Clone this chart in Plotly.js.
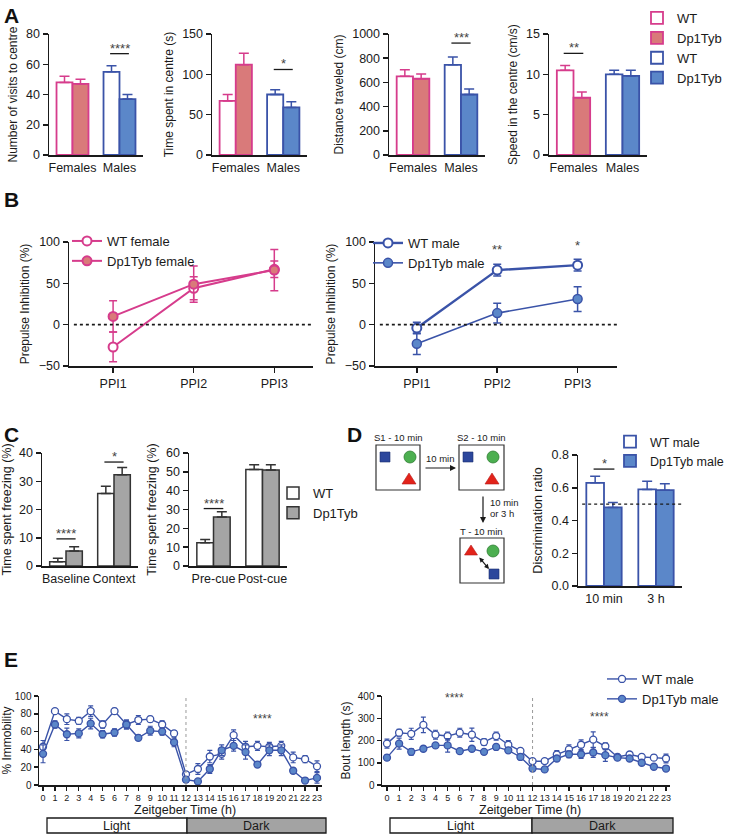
<!DOCTYPE html>
<html><head><meta charset="utf-8">
<script src="https://cdn.plot.ly/plotly-3.0.1.min.js"></script>
<style>html,body{margin:0;padding:0;background:#fff}#chart{width:730px;height:836px}</style>
</head><body><div id="chart"></div>
<script>
// ---------------- DATA ----------------
// Panel A (open field): order = visits, time in centre, distance, speed
const sexCats = ['Females', 'Males'];
const aTitles = ['Number of visits to centre', 'Time spent in centre (s)', 'Distance traveled (cm)', 'Speed in the centre (cm/s)'];
const aMax = [80, 150, 1000, 15];
const aDtick = [20, 50, 200, 5];
const femaleWT = [48, 67, 650, 10.5];
const femaleWTErr = [4, 8, 55, 0.6];
const femaleDp = [47, 112, 630, 7.1];
const femaleDpErr = [3, 14, 40, 0.7];
const maleWT = [55, 75, 745, 10.0];
const maleWTErr = [4, 6, 65, 0.5];
const maleDp = [37, 59, 500, 9.8];
const maleDpErr = [3, 7, 45, 0.7];

// Panel B (prepulse inhibition)
const ppiCats = ['PPI1', 'PPI2', 'PPI3'];
const ppiWTFemale = [-27, 44, 67];
const ppiWTFemaleErr = [18, 14, 10];
const ppiDpFemale = [10, 49, 66];
const ppiDpFemaleErr = [19, 22, 25];
const ppiWTMale = [-4, 66, 72];
const ppiWTMaleErr = [7, 7, 7];
const ppiDpMale = [-23, 14, 31];
const ppiDpMaleErr = [13, 12, 15];

// Panel C (fear conditioning)
const ctxCats = ['Baseline', 'Context'];
const ctxWT = [1.5, 25.7];
const ctxWTErr = [1.2, 2.5];
const ctxDp = [5.3, 32.3];
const ctxDpErr = [1.5, 2.6];
const cueCats = ['Pre-cue', 'Post-cue'];
const cueWT = [12.3, 51.2];
const cueWTErr = [1.8, 2.5];
const cueDp = [26.0, 51.0];
const cueDpErr = [2.8, 2.8];

// Panel D (novel object location)
const norCats = ['10 min', '3 h'];
const norWT = [0.63, 0.59];
const norWTErr = [0.04, 0.05];
const norDp = [0.48, 0.585];
const norDpErr = [0.03, 0.04];

// Panel E (circadian)
const hours = [0,1,2,3,4,5,6,7,8,9,10,11,12,13,14,15,16,17,18,19,20,21,22,23];
const immWT = [43,83,74,72,83,68,83,68,73,74,68,58,12,18,32,35,56,43,44,43,44,31,29,21];
const immWTErr = [7,2,6,4,6,4,3,5,5,3,4,3,3,6,7,6,6,6,5,5,5,6,4,6];
const immDp = [35,68,57,58,69,57,59,68,53,61,60,48,6,4,18,39,44,37,23,39,39,16,5,8];
const immDpErr = [10,4,7,5,6,4,4,5,3,5,4,5,3,2,5,6,6,8,3,6,6,3,2,6];
const boutWT = [186,235,230,270,226,220,235,226,193,220,181,153,107,107,137,160,181,204,174,126,137,126,123,119];
const boutWTErr = [20,15,25,35,20,18,20,30,15,18,18,12,12,10,18,20,22,35,15,12,12,12,12,20];
const boutDp = [123,186,149,163,178,178,152,163,149,171,156,126,74,70,119,138,138,146,134,123,119,100,82,74];
const boutDpErr = [12,25,15,12,10,30,10,10,8,12,8,8,10,5,10,15,18,22,28,10,10,8,10,8];

// ---------------- STYLE ----------------
const W = 730, H = 836;
const px = v => v / W, py = v => 1 - v / H;
const FONT = 'Liberation Sans, Arial, sans-serif';
const INK = '#1a1a1a';
const PINK = '#d63c8c', SALMON = '#d97a7a';
const BLUE = '#3a53a8', BLUEFILL = '#5b87c9';
const GREY = '#a5a5a5', GREYLINE = '#333333';

const traces = [], annotations = [], shapes = [];
const layout = {
  width: W, height: H, autosize: false,
  margin: {l: 0, r: 0, t: 0, b: 0, pad: 0, autoexpand: false},
  paper_bgcolor: '#fff', plot_bgcolor: '#fff',
  font: {family: FONT, color: INK, size: 12},
  barmode: 'group', bargap: 0.32, bargroupgap: 0,
  showlegend: true,
  annotations, shapes
};
const sfx = n => (n === 1 ? '' : String(n));
function baseAxis() {
  return {showline: true, linecolor: INK, linewidth: 1.5, ticks: 'outside', ticklen: 5, tickwidth: 1.5,
          tickcolor: INK, showgrid: false, zeroline: false, fixedrange: true, tickangle: 0, automargin: false,
          tickfont: {size: 12.5, color: INK, family: FONT}};
}
function axes(n, xdom, ydom, xopt, yopt) {
  layout['xaxis' + sfx(n)] = Object.assign(baseAxis(), {domain: xdom, anchor: 'y' + sfx(n)}, xopt);
  layout['yaxis' + sfx(n)] = Object.assign(baseAxis(), {domain: ydom, anchor: 'x' + sfx(n)}, yopt);
}
function ytitle(text, size, standoff) {
  return {text, font: {size: size, family: FONT, color: INK}, standoff: standoff};
}
function sig(n, x0, x1, y, txt) {
  shapes.push({type: 'line', xref: 'x' + sfx(n), yref: 'y' + sfx(n), x0, x1, y0: y, y1: y,
               line: {color: INK, width: 1.3}});
  annotations.push({xref: 'x' + sfx(n), yref: 'y' + sfx(n), x: (x0 + x1) / 2, y, text: txt, showarrow: false,
                    yanchor: 'bottom', yshift: -4, font: {size: 13, color: '#444', family: FONT}});
}
function upErr(arr, color, w) {
  return {type: 'data', array: arr, arrayminus: arr.map(() => 0), symmetric: false,
          color, thickness: 1.5, width: w || 5};
}
function symErr(arr, color, w, t) {
  return {type: 'data', array: arr, visible: true, color, thickness: t || 1.5, width: w || 4};
}
function legendAt(x, y, size) {
  return {x: px(x), y: py(y), xanchor: 'left', yanchor: 'top', font: {size: size || 13, family: FONT, color: INK},
          bgcolor: 'rgba(0,0,0,0)', tracegroupgap: 0, itemwidth: 30, traceorder: 'normal'};
}

// ---------------- PANEL A ----------------
const aX = [[49, 143], [212, 307], [389, 485], [549, 647]];
const aY = [py(155), py(34)];
for (let i = 0; i < 4; i++) {
  const n = i + 1;
  axes(n, [px(aX[i][0]), px(aX[i][1])], aY,
       {type: 'category', categoryarray: sexCats, range: [-0.5, 1.5], ticks: ''},
       {range: [0, aMax[i]], dtick: aDtick[i], title: ytitle(aTitles[i], 12, 6)});
  const xa = 'x' + sfx(n), ya = 'y' + sfx(n), first = i === 0;
  traces.push({type: 'bar', name: 'WT', x: ['Females'], y: [femaleWT[i]], xaxis: xa, yaxis: ya, offsetgroup: 'wt',
    marker: {color: '#fff', line: {color: PINK, width: 1.8}}, error_y: upErr([femaleWTErr[i]], PINK),
    showlegend: first, legend: 'legend', legendrank: 1});
  traces.push({type: 'bar', name: 'Dp1Tyb', x: ['Females'], y: [femaleDp[i]], xaxis: xa, yaxis: ya, offsetgroup: 'dp',
    marker: {color: SALMON, line: {color: PINK, width: 1.8}}, error_y: upErr([femaleDpErr[i]], PINK),
    showlegend: first, legend: 'legend', legendrank: 2});
  traces.push({type: 'bar', name: 'WT', x: ['Males'], y: [maleWT[i]], xaxis: xa, yaxis: ya, offsetgroup: 'wt',
    marker: {color: '#fff', line: {color: BLUE, width: 1.8}}, error_y: upErr([maleWTErr[i]], BLUE),
    showlegend: first, legend: 'legend', legendrank: 3});
  traces.push({type: 'bar', name: 'Dp1Tyb', x: ['Males'], y: [maleDp[i]], xaxis: xa, yaxis: ya, offsetgroup: 'dp',
    marker: {color: BLUEFILL, line: {color: BLUE, width: 1.8}}, error_y: upErr([maleDpErr[i]], BLUE),
    showlegend: first, legend: 'legend', legendrank: 4});
}
sig(1, 0.8, 1.2, 67, '****');
sig(2, 0.8, 1.2, 106, '*');
sig(3, 0.8, 1.2, 925, '***');
sig(4, -0.2, 0.2, 12.6, '**');
layout.legend = legendAt(637, 3);

// ---------------- PANEL B ----------------
const bY = [py(366), py(242)];
axes(5, [px(69), px(313)], bY,
     {type: 'category', categoryarray: ppiCats, range: [-0.547, 2.48]},
     {range: [-50, 100], tickvals: [-50, 0, 50, 100], title: ytitle('Prepulse Inhibition (%)', 12, 6)});
axes(6, [px(375), px(617)], bY,
     {type: 'category', categoryarray: ppiCats, range: [-0.52, 2.49]},
     {range: [-50, 100], tickvals: [-50, 0, 50, 100], title: ytitle('Prepulse Inhibition (%)', 12, 6)});
shapes.push({type: 'line', xref: 'x5 domain', yref: 'y5', x0: 0.02, x1: 1, y0: 0, y1: 0, line: {color: INK, width: 1.6, dash: 'dot'}});
shapes.push({type: 'line', xref: 'x6 domain', yref: 'y6', x0: 0.02, x1: 1, y0: 0, y1: 0, line: {color: INK, width: 1.6, dash: 'dot'}});
traces.push({type: 'scatter', mode: 'lines+markers', name: 'WT female', x: ppiCats, y: ppiWTFemale, xaxis: 'x5', yaxis: 'y5',
  line: {color: PINK, width: 2}, marker: {symbol: 'circle', size: 9, color: '#fff', line: {color: PINK, width: 2}},
  error_y: symErr(ppiWTFemaleErr, PINK, 4), legend: 'legend2'});
traces.push({type: 'scatter', mode: 'lines+markers', name: 'Dp1Tyb female', x: ppiCats, y: ppiDpFemale, xaxis: 'x5', yaxis: 'y5',
  line: {color: PINK, width: 2}, marker: {symbol: 'circle', size: 9, color: SALMON, line: {color: PINK, width: 2}},
  error_y: symErr(ppiDpFemaleErr, PINK, 4), legend: 'legend2'});
traces.push({type: 'scatter', mode: 'lines+markers', name: 'WT male', x: ppiCats, y: ppiWTMale, xaxis: 'x6', yaxis: 'y6',
  line: {color: BLUE, width: 2.4}, marker: {symbol: 'circle', size: 9, color: '#fff', line: {color: BLUE, width: 2}},
  error_y: symErr(ppiWTMaleErr, BLUE, 4), legend: 'legend3'});
traces.push({type: 'scatter', mode: 'lines+markers', name: 'Dp1Tyb male', x: ppiCats, y: ppiDpMale, xaxis: 'x6', yaxis: 'y6',
  line: {color: BLUE, width: 1.6}, marker: {symbol: 'circle', size: 9, color: BLUEFILL, line: {color: BLUE, width: 1.5}},
  error_y: symErr(ppiDpMaleErr, BLUE, 4), legend: 'legend3'});
annotations.push({xref: 'x6', yref: 'y6', x: 1, y: 79, text: '**', showarrow: false, yanchor: 'bottom', font: {size: 13, color: '#444'}});
annotations.push({xref: 'x6', yref: 'y6', x: 2, y: 84, text: '*', showarrow: false, yanchor: 'bottom', font: {size: 13, color: '#444'}});
layout.legend2 = legendAt(67, 226);
layout.legend3 = legendAt(368, 228);

// ---------------- PANEL C ----------------
const cY = [py(566), py(453)];
axes(7, [px(42), px(138)], cY,
     {type: 'category', categoryarray: ctxCats, range: [-0.5, 1.5], ticks: ''},
     {range: [0, 40], dtick: 10, title: ytitle('Time spent freezing (%)', 12.5, 6)});
axes(8, [px(189), px(287)], cY,
     {type: 'category', categoryarray: cueCats, range: [-0.5, 1.5], ticks: ''},
     {range: [0, 60], dtick: 10, title: ytitle('Time spent freezing (%)', 12.5, 6)});
traces.push({type: 'bar', name: 'WT', x: ctxCats, y: ctxWT, xaxis: 'x7', yaxis: 'y7', offsetgroup: 'wt',
  marker: {color: '#fff', line: {color: GREYLINE, width: 1.5}}, error_y: upErr(ctxWTErr, GREYLINE), legend: 'legend4'});
traces.push({type: 'bar', name: 'Dp1Tyb', x: ctxCats, y: ctxDp, xaxis: 'x7', yaxis: 'y7', offsetgroup: 'dp',
  marker: {color: GREY, line: {color: GREYLINE, width: 1.5}}, error_y: upErr(ctxDpErr, GREYLINE), legend: 'legend4'});
traces.push({type: 'bar', name: 'WT', x: cueCats, y: cueWT, xaxis: 'x8', yaxis: 'y8', offsetgroup: 'wt', showlegend: false,
  marker: {color: '#fff', line: {color: GREYLINE, width: 1.5}}, error_y: upErr(cueWTErr, GREYLINE)});
traces.push({type: 'bar', name: 'Dp1Tyb', x: cueCats, y: cueDp, xaxis: 'x8', yaxis: 'y8', offsetgroup: 'dp', showlegend: false,
  marker: {color: GREY, line: {color: GREYLINE, width: 1.5}}, error_y: upErr(cueDpErr, GREYLINE)});
sig(7, -0.2, 0.2, 9.6, '****');
sig(7, 0.8, 1.2, 36.8, '*');
sig(8, -0.2, 0.2, 30.5, '****');
layout.legend4 = legendAt(273, 478);

// ---------------- PANEL D ----------------
axes(9, [px(578), px(682)], [py(586), py(455)],
     {type: 'category', categoryarray: norCats, range: [-0.5, 1.5], ticks: ''},
     {range: [0, 0.8], tickvals: [0, 0.2, 0.4, 0.6, 0.8], tickformat: '.1f', title: ytitle('Discrimination ratio', 12.5, 6)});
traces.push({type: 'bar', name: 'WT male', x: norCats, y: norWT, xaxis: 'x9', yaxis: 'y9', offsetgroup: 'wt',
  marker: {color: '#fff', line: {color: BLUE, width: 1.8}}, error_y: upErr(norWTErr, BLUE), legend: 'legend5'});
traces.push({type: 'bar', name: 'Dp1Tyb male', x: norCats, y: norDp, xaxis: 'x9', yaxis: 'y9', offsetgroup: 'dp',
  marker: {color: BLUEFILL, line: {color: BLUE, width: 1.8}}, error_y: upErr(norDpErr, BLUE), legend: 'legend5'});
shapes.push({type: 'line', xref: 'x9 domain', yref: 'y9', x0: 0.04, x1: 1, y0: 0.5, y1: 0.5, line: {color: INK, width: 1.4, dash: 'dot'}});
sig(9, -0.2, 0.2, 0.714, '*');
layout.legend5 = legendAt(610, 427, 12.5);

// D diagram (schematic)
function rect(x0, y0, x1, y1, fill, line, lw) {
  shapes.push({type: 'rect', xref: 'paper', yref: 'paper', x0: px(x0), x1: px(x1), y0: py(y1), y1: py(y0),
               fillcolor: fill, line: {color: line, width: lw}});
}
function circ(cx, cy, r, fill, line) {
  shapes.push({type: 'circle', xref: 'paper', yref: 'paper', x0: px(cx - r), x1: px(cx + r), y0: py(cy + r), y1: py(cy - r),
               fillcolor: fill, line: {color: line, width: 0.8}});
}
function tri(ax_, ay_, w, h, fill) {
  const p = `M${px(ax_)},${py(ay_)} L${px(ax_ - w / 2)},${py(ay_ + h)} L${px(ax_ + w / 2)},${py(ay_ + h)} Z`;
  shapes.push({type: 'path', xref: 'paper', yref: 'paper', path: p, fillcolor: fill, line: {color: '#b71c1c', width: 0.6}});
}
const SQ = '#2c479c', GR = '#4caf50', RD = '#e2231a';
rect(376, 445, 420, 490, 'rgba(0,0,0,0)', '#333', 1.2);
rect(459, 445, 504, 490, 'rgba(0,0,0,0)', '#333', 1.2);
rect(460, 538, 504, 583, 'rgba(0,0,0,0)', '#333', 1.2);
rect(380, 452, 390, 462, SQ, '#1c2f6e', 0.6);
circ(410, 457, 6, GR, '#2e7d32');
tri(409, 473, 14, 11, RD);
rect(463, 452, 473, 462, SQ, '#1c2f6e', 0.6);
circ(493, 457, 6, GR, '#2e7d32');
tri(492, 473, 14, 11, RD);
tri(471, 545, 13, 10, RD);
circ(493, 551, 6, GR, '#2e7d32');
rect(489, 569, 499, 579, SQ, '#1c2f6e', 0.6);
function txt(x, y, t, size, anchor) {
  annotations.push({xref: 'paper', yref: 'paper', x: px(x), y: py(y), text: t, showarrow: false,
                    xanchor: anchor || 'center', yanchor: 'middle', font: {size: size, color: INK, family: FONT}});
}
txt(398, 437, 'S1 - 10 min', 9.5);
txt(482, 437, 'S2 - 10 min', 9.5);
txt(482, 531, 'T - 10 min', 9.5);
txt(440, 458, '10 min', 9.5);
txt(488, 502, '10 min', 9.5, 'left');
txt(488, 513, 'or 3 h', 9.5, 'left');
annotations.push({xref: 'paper', yref: 'paper', x: px(456), y: py(468), ax: -32, ay: 0, text: '', showarrow: true,
                  arrowhead: 2, arrowsize: 1, arrowwidth: 1.2, arrowcolor: INK});
annotations.push({xref: 'paper', yref: 'paper', x: px(483), y: py(523), ax: 0, ay: -28, text: '', showarrow: true,
                  arrowhead: 2, arrowsize: 1, arrowwidth: 1.2, arrowcolor: INK});
annotations.push({xref: 'paper', yref: 'paper', x: px(489), y: py(569), ax: -11, ay: -13, text: '', showarrow: true,
                  arrowhead: 2, startarrowhead: 2, arrowside: 'end+start', arrowsize: 0.8, arrowwidth: 1.2, arrowcolor: INK});

// ---------------- PANEL E ----------------
const eY = [py(785), py(696)];
const eX = {tickvals: hours, ticktext: hours.map(String), ticklen: 4, tickwidth: 1.2, tickfont: {size: 9, color: INK, family: FONT}};
const eYf = {ticklen: 4, tickfont: {size: 10, color: INK, family: FONT}};
axes(10, [px(39), px(322)], eY, Object.assign({range: [-0.34, 23.42]}, eX),
     Object.assign({range: [0, 100], dtick: 20, title: ytitle('% Immobility', 12, 4)}, eYf));
axes(11, [px(382), px(670)], eY, Object.assign({range: [-0.41, 23.33]}, eX),
     Object.assign({range: [0, 400], dtick: 100, title: ytitle('Bout length (s)', 12, 4)}, eYf));
txt(185, 810, 'Zeitgeber Time (h)', 12.5);
txt(530, 810, 'Zeitgeber Time (h)', 12.5);
function eLine(n, name, y, err, open, show) {
  traces.push({type: 'scatter', mode: 'lines+markers', name, x: hours, y, xaxis: 'x' + n, yaxis: 'y' + n,
    line: {color: BLUE, width: 1.4},
    marker: {symbol: 'circle', size: 7, color: open ? '#fff' : BLUEFILL, line: {color: BLUE, width: 1.3}},
    error_y: symErr(err, BLUE, 2.5, 1.2), showlegend: show, legend: 'legend6'});
}
eLine(10, 'WT male', immWT, immWTErr, true, false);
eLine(10, 'Dp1Tyb male', immDp, immDpErr, false, false);
eLine(11, 'WT male', boutWT, boutWTErr, true, true);
eLine(11, 'Dp1Tyb male', boutDp, boutDpErr, false, true);
[10, 11].forEach(n => shapes.push({type: 'line', xref: 'x' + n, yref: 'y' + n + ' domain', x0: 12, x1: 12, y0: 0, y1: 1,
  line: {color: '#9a9a9a', width: 1, dash: 'dot'}}));
annotations.push({xref: 'x10', yref: 'y10', x: 5.2, y: 101, text: '****', showarrow: false, font: {size: 12, color: '#444'}});
annotations.push({xref: 'x10', yref: 'y10', x: 18.4, y: 74, text: '****', showarrow: false, font: {size: 12, color: '#444'}});
annotations.push({xref: 'x11', yref: 'y11', x: 5.6, y: 391, text: '****', showarrow: false, font: {size: 12, color: '#444'}});
annotations.push({xref: 'x11', yref: 'y11', x: 17.5, y: 306, text: '****', showarrow: false, font: {size: 12, color: '#444'}});
layout.legend6 = legendAt(602, 664);
// Light / Dark bars
rect(47, 818, 187, 833, '#fff', INK, 1.3);
rect(187, 818, 326, 833, '#a3a3a3', INK, 1.3);
rect(390, 818, 532, 833, '#fff', INK, 1.3);
rect(532, 818, 673, 833, '#a3a3a3', INK, 1.3);
txt(117, 825.5, 'Light', 12.5); txt(256, 825.5, 'Dark', 12.5);
txt(461, 825.5, 'Light', 12.5); txt(602, 825.5, 'Dark', 12.5);

// Panel letters
[['A', 2, 16], ['B', 2, 199], ['C', 2, 434], ['D', 345, 434], ['E', 2, 659]].forEach(([t, x, y]) =>
  annotations.push({xref: 'paper', yref: 'paper', x: px(x), y: py(y), text: '<b>' + t + '</b>', showarrow: false,
                    xanchor: 'left', yanchor: 'middle', font: {size: 21, color: '#111', family: FONT}}));

Plotly.newPlot('chart', traces, layout, {staticPlot: true, displayModeBar: false});
</script>
</body></html>
